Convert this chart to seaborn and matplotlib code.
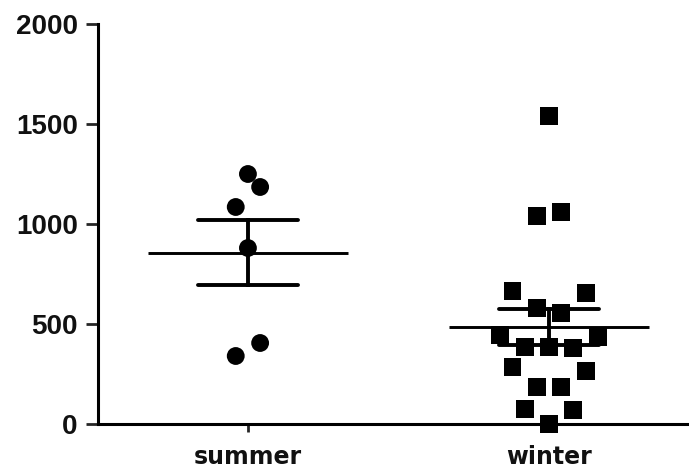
import pandas as pd
import numpy as np
import seaborn as sns
import matplotlib.pyplot as plt

# values
summer = [1250, 1185, 1085, 880, 405, 340]
winter = [1540, 1060, 1040, 665, 655, 580, 555, 445, 435, 385, 385, 380,
          285, 265, 185, 185, 75, 70, 0]
groups = ['summer', 'winter']
yticks = [0, 500, 1000, 1500, 2000]


def column_offsets(vals, bin_size=180, bin_start=-50, step=0.081):
    """Prism-like column scatter: bin values in rows, spread each row."""
    vals = np.asarray(vals, dtype=float)
    rows = np.floor((vals - bin_start) / bin_size).astype(int)
    off = np.zeros(len(vals))
    for r in np.unique(rows):
        idx = np.where(rows == r)[0]
        idx = idx[np.argsort(-vals[idx], kind='stable')]
        n = len(idx)
        if n == 2:
            order = [idx[1], idx[0]]
        elif n > 2:
            order = [idx[0]] + list(idx[2:]) + [idx[1]]
        else:
            order = list(idx)
        slots = (np.arange(n) - (n - 1) / 2) * step
        for k, i in enumerate(order):
            off[i] = slots[k]
    return off


df = pd.DataFrame({
    'season': ['summer'] * len(summer) + ['winter'] * len(winter),
    'value': summer + winter,
})
df['xpos'] = np.concatenate([0 + column_offsets(summer),
                             1 + column_offsets(winter)])

sns.set_style('white')
plt.rcParams['font.family'] = ['DejaVu Sans']

fig = plt.figure(figsize=(6.89, 4.75), dpi=100)
ax = fig.add_axes([98 / 689, 51 / 475, 591 / 689, 400 / 475])

# mean +/- SEM
sns.pointplot(data=df, x='season', y='value', order=groups, ax=ax,
              errorbar='se', capsize=0.33, color='black',
              linestyle='none', marker='_', markersize=144,
              markeredgewidth=2.1, err_kws={'linewidth': 2.8})

# individual points
sns.scatterplot(data=df, x='xpos', y='value', style='season',
                markers={'summer': 'o', 'winter': 's'}, color='black',
                s=165, linewidth=0, legend=False, ax=ax, zorder=3)

for c in ax.collections:
    c.set_clip_on(False)
for ln in ax.lines:
    ln.set_clip_on(False)

ax.set_xlim(-0.498, 1.465)
ax.set_ylim(0, 2000)
ax.set_yticks(yticks)
ax.set_yticklabels([str(t) for t in yticks], fontfamily='Liberation Sans',
                   fontweight='bold', fontsize=20, color='#111111')
ax.set_xticks([0, 1])
ax.set_xticklabels(groups, fontweight='bold', fontsize=17, color='#111111')
ax.set_xlabel('')
ax.set_ylabel('')

sns.despine(ax=ax)
for s in ['left', 'bottom']:
    ax.spines[s].set_linewidth(2.2)
    ax.spines[s].set_color('black')
ax.tick_params(axis='y', direction='out', length=8.5, width=2, pad=6,
               left=True)
ax.tick_params(axis='x', direction='out', length=6, width=2, pad=9,
               bottom=True)

fig.savefig('out.png', dpi=100)
